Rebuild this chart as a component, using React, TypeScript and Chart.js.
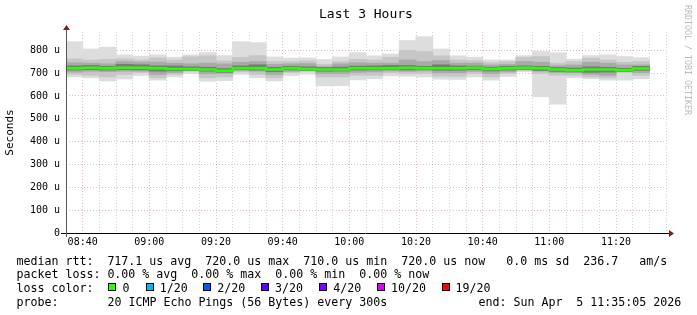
import React, { useEffect, useRef } from 'react';
import { Chart, registerables } from 'chart.js';

Chart.register(...registerables);

// ---- data ----
const axisStart = '08:35';
const axisEnd = '11:35';
const binMinutes = 5;
const binStarts = [
  '08:35', '08:40', '08:45', '08:50', '08:55',
  '09:00', '09:05', '09:10', '09:15', '09:20', '09:25', '09:30', '09:35', '09:40', '09:45', '09:50', '09:55',
  '10:00', '10:05', '10:10', '10:15', '10:20', '10:25', '10:30', '10:35', '10:40', '10:45', '10:50', '10:55',
  '11:00', '11:05', '11:10', '11:15', '11:20', '11:25',
];
const xTickLabels = ['08:40', '09:00', '09:20', '09:40', '10:00', '10:20', '10:40', '11:00', '11:20'];

// microseconds
const smokeMax = [837, 805, 813, 779, 773, 779, 769, 779, 789, 776, 837, 833, 770, 765, 766, 759, 770, 789, 775, 783, 842, 859, 805, 775, 769, 757, 757, 776, 794, 788, 760, 776, 779, 772, 767];
const smokeMin = [684, 680, 666, 675, 690, 670, 684, 698, 665, 668, 695, 680, 666, 690, 696, 645, 646, 671, 676, 689, 687, 684, 674, 673, 684, 670, 686, 707, 597, 565, 680, 676, 670, 670, 676];
const midHi = [762, 757, 760, 762, 757, 766, 757, 771, 775, 753, 768, 776, 750, 750, 753, 738, 750, 760, 757, 769, 798, 794, 775, 757, 754, 745, 750, 768, 772, 743, 750, 765, 757, 747, 750];
const midLo = [695, 691, 684, 695, 703, 680, 695, 709, 680, 684, 706, 695, 680, 703, 709, 684, 684, 691, 691, 702, 699, 699, 687, 687, 699, 684, 699, 712, 699, 691, 691, 684, 680, 703, 691];
const darkHi = [745, 743, 740, 750, 748, 748, 743, 740, 743, 740, 747, 750, 738, 740, 741, 728, 740, 745, 743, 743, 757, 750, 754, 743, 743, 735, 738, 750, 747, 732, 735, 747, 743, 735, 735];
const darkLo = [705, 709, 707, 709, 709, 695, 703, 718, 698, 700, 712, 709, 695, 708, 716, 699, 699, 704, 706, 710, 708, 710, 702, 702, 708, 699, 706, 716, 709, 703, 703, 695, 691, 708, 703];
const coreHi = [731, 733, 729, 738, 736, 731, 731, 727, 725, 719, 731, 736, 725, 729, 727, 724, 726, 730, 731, 733, 733, 729, 736, 731, 730, 725, 729, 731, 729, 724, 722, 727, 725, 720, 729];
const coreLo = [714, 716, 714, 716, 715, 709, 711, 712, 709, 704, 716, 714, 707, 715, 712, 709, 710, 714, 715, 716, 715, 716, 713, 713, 716, 710, 714, 717, 712, 708, 706, 704, 705, 707, 713];
const medianRtt = [721, 723, 721, 723, 723, 721, 718, 718, 716, 710, 721, 721, 716, 721, 718, 716, 716, 721, 721, 721, 723, 721, 721, 721, 723, 718, 721, 723, 721, 716, 713, 716, 716, 713, 720];

const yMax = 880;
const yStep = 50;

const legendRow1 = 'median rtt:  717.1 us avg  720.0 us max  710.0 us min  720.0 us now   0.0 ms sd  236.7   am/s';
const legendRow2 = 'packet loss: 0.00 % avg  0.00 % max  0.00 % min  0.00 % now';
const lossLabels = ['0', '1/20', '2/20', '3/20', '4/20', '10/20', '19/20'];
const lossColors = ['#26ff00', '#00b8ff', '#0059ff', '#5e00ff', '#7e00ff', '#dd00ff', '#ff0000'];
const probeText = '20 ICMP Echo Pings (56 Bytes) every 300s';
const endText = 'end: Sun Apr  5 11:35:05 2026';

// ---- helpers ----
const toMin = (s: string) => {
  const [h, m] = s.split(':').map(Number);
  return h * 60 + m;
};
const base = toMin(axisStart);
const xMax = toMin(axisEnd) - base;
const binCenter = binStarts.map((s) => toMin(s) - base + binMinutes / 2);
const tickMap: Record<number, string> = {};
xTickLabels.forEach((l) => { tickMap[toMin(l) - base] = l; });

const MONO = '"DejaVu Sans Mono", monospace';
const MAJOR = 'rgba(210,70,70,0.38)';
const MINOR = 'rgba(150,150,150,0.42)';

const axisPlugin = {
  id: 'rrdAxes',
  afterDraw(chart: any) {
    const { ctx, chartArea: a } = chart;
    const y0 = Math.round(a.bottom) + 0.5;
    const x0 = Math.round(a.left) + 0.5;
    ctx.save();
    ctx.lineWidth = 1;
    ctx.strokeStyle = '#000';
    ctx.beginPath();
    ctx.moveTo(a.left - 5, y0);
    ctx.lineTo(a.right + 4, y0);
    ctx.stroke();
    ctx.strokeStyle = '#555';
    ctx.beginPath();
    ctx.moveTo(x0, a.bottom + 4);
    ctx.lineTo(x0, a.top - 3);
    ctx.stroke();
    ctx.fillStyle = '#7f1f1f';
    ctx.beginPath();
    ctx.moveTo(a.right + 3, y0 - 3.5);
    ctx.lineTo(a.right + 3, y0 + 3.5);
    ctx.lineTo(a.right + 8, y0);
    ctx.closePath();
    ctx.fill();
    ctx.beginPath();
    ctx.moveTo(x0 - 3.5, a.top - 2);
    ctx.lineTo(x0 + 3.5, a.top - 2);
    ctx.lineTo(x0, a.top - 7);
    ctx.closePath();
    ctx.fill();
    ctx.restore();
  },
};

function SmokeChart() {
  const ref = useRef<HTMLCanvasElement | null>(null);
  useEffect(() => {
    if (!ref.current) return;
    const layers = [
      { lo: smokeMin, hi: smokeMax, color: '#dddddd', order: 5 },
      { lo: midLo, hi: midHi, color: '#c6c6c6', order: 4 },
      { lo: darkLo, hi: darkHi, color: '#a9a9a9', order: 3 },
      { lo: coreLo, hi: coreHi, color: '#7a7a7a', order: 2 },
    ];
    const barSets = layers.map((l) => ({
      type: 'bar' as const,
      data: binCenter.map((x, i) => ({ x, y: [l.lo[i], l.hi[i]] })),
      backgroundColor: l.color,
      borderWidth: 0,
      barPercentage: 1,
      categoryPercentage: 1,
      grouped: false,
      inflateAmount: 0.5,
      order: l.order,
    }));
    const medPts = binStarts.map((s, i) => ({ x: toMin(s) - base, y: medianRtt[i] }));
    medPts.push({ x: toMin(binStarts[binStarts.length - 1]) - base + binMinutes, y: medianRtt[medianRtt.length - 1] });
    const medSet = {
      type: 'line' as const,
      data: medPts,
      borderColor: '#26ff00',
      borderWidth: 2.5,
      pointRadius: 0,
      stepped: 'before' as const,
      fill: false,
      order: 1,
    };
    const chart = new Chart(ref.current, {
      type: 'bar',
      data: { datasets: [...barSets, medSet] as any },
      options: {
        animation: false,
        responsive: false,
        devicePixelRatio: 1,
        layout: { padding: { top: 32, right: 31, bottom: 0, left: 0 } },
        plugins: { legend: { display: false }, tooltip: { enabled: false } },
        scales: {
          x: {
            type: 'linear',
            min: 0,
            max: xMax,
            offset: false,
            z: 1,
            afterFit: (s: any) => { s.height = 82; },
            grid: {
              offset: false,
              drawTicks: false,
              lineWidth: 1,
              color: (c: any) => (c.tick && tickMap[c.tick.value] !== undefined ? MAJOR : MINOR),
            },
            border: { display: false, dash: [1, 2] },
            ticks: {
              stepSize: binMinutes,
              autoSkip: false,
              maxRotation: 0,
              includeBounds: false,
              padding: 3,
              color: '#000',
              font: { family: MONO, size: 10 },
              callback: (v: any) => tickMap[v] ?? '',
            },
          },
          y: {
            type: 'linear',
            min: 0,
            max: yMax,
            z: 1,
            afterFit: (s: any) => { s.width = 66; },
            grid: {
              drawTicks: false,
              lineWidth: 1,
              color: (c: any) => (c.tick && c.tick.value % 100 === 0 ? MAJOR : MINOR),
            },
            border: { display: false, dash: [1, 2] },
            ticks: {
              stepSize: yStep,
              includeBounds: false,
              padding: 6,
              color: '#000',
              font: { family: MONO, size: 10 },
              callback: (v: any) => (v % 100 === 0 ? (v === 0 ? '0' : `${v} u`) : ''),
            },
            title: {
              display: true,
              text: 'Seconds',
              color: '#000',
              font: { family: MONO, size: 11 },
              padding: { top: 4, bottom: 0 },
            },
          },
        },
      },
      plugins: [axisPlugin],
    } as any);
    return () => chart.destroy();
  }, []);
  return <canvas ref={ref} width={697} height={315} style={{ position: 'absolute', left: 0, top: 0, width: 697, height: 315 }} />;
}

const CW = 7.0;
const LX = 16.4;
const legendFont: React.CSSProperties = {
  position: 'absolute',
  fontFamily: MONO,
  fontSize: 11.63,
  lineHeight: '14px',
  whiteSpace: 'pre',
  color: '#000',
};

const boxX = [108.3, 145.7, 203.3, 261, 319, 377, 441.7];
const lblX = [122.6, 159.8, 217.3, 275, 333.3, 391, 455.5];

export default function App() {
  const rowTops = [253.8, 267.4, 280.9, 294.5];
  return (
    <div style={{ position: 'fixed', left: 0, top: 0, width: 697, height: 315, background: '#fff', overflow: 'hidden' }}>
      <SmokeChart />
      <div style={{ position: 'absolute', left: 319, top: 6, fontFamily: MONO, fontSize: 13, lineHeight: '16px', whiteSpace: 'pre', color: '#000' }}>Last 3 Hours</div>
      <div style={{ position: 'absolute', left: 683, top: 5, fontFamily: MONO, fontSize: 8.3, lineHeight: '10px', writingMode: 'vertical-rl', color: '#bbbbbb', whiteSpace: 'pre' }}>RRDTOOL / TOBI OETIKER</div>
      <div style={{ ...legendFont, left: LX, top: rowTops[0] }}>{legendRow1}</div>
      <div style={{ ...legendFont, left: LX, top: rowTops[1] }}>{legendRow2}</div>
      <div style={{ ...legendFont, left: LX, top: rowTops[2] }}>loss color:</div>
      {lossLabels.map((l, i) => (
        <React.Fragment key={l}>
          <div style={{ position: 'absolute', left: boxX[i], top: 282.7, width: 6, height: 6, border: '1px solid #000', background: lossColors[i] }} />
          <div style={{ ...legendFont, left: lblX[i], top: rowTops[2] }}>{l}</div>
        </React.Fragment>
      ))}
      <div style={{ ...legendFont, left: LX, top: rowTops[3] }}>probe:</div>
      <div style={{ ...legendFont, left: LX + 13 * CW, top: rowTops[3] }}>{probeText}</div>
      <div style={{ ...legendFont, left: LX + 66 * CW, top: rowTops[3] }}>{endText}</div>
    </div>
  );
}
